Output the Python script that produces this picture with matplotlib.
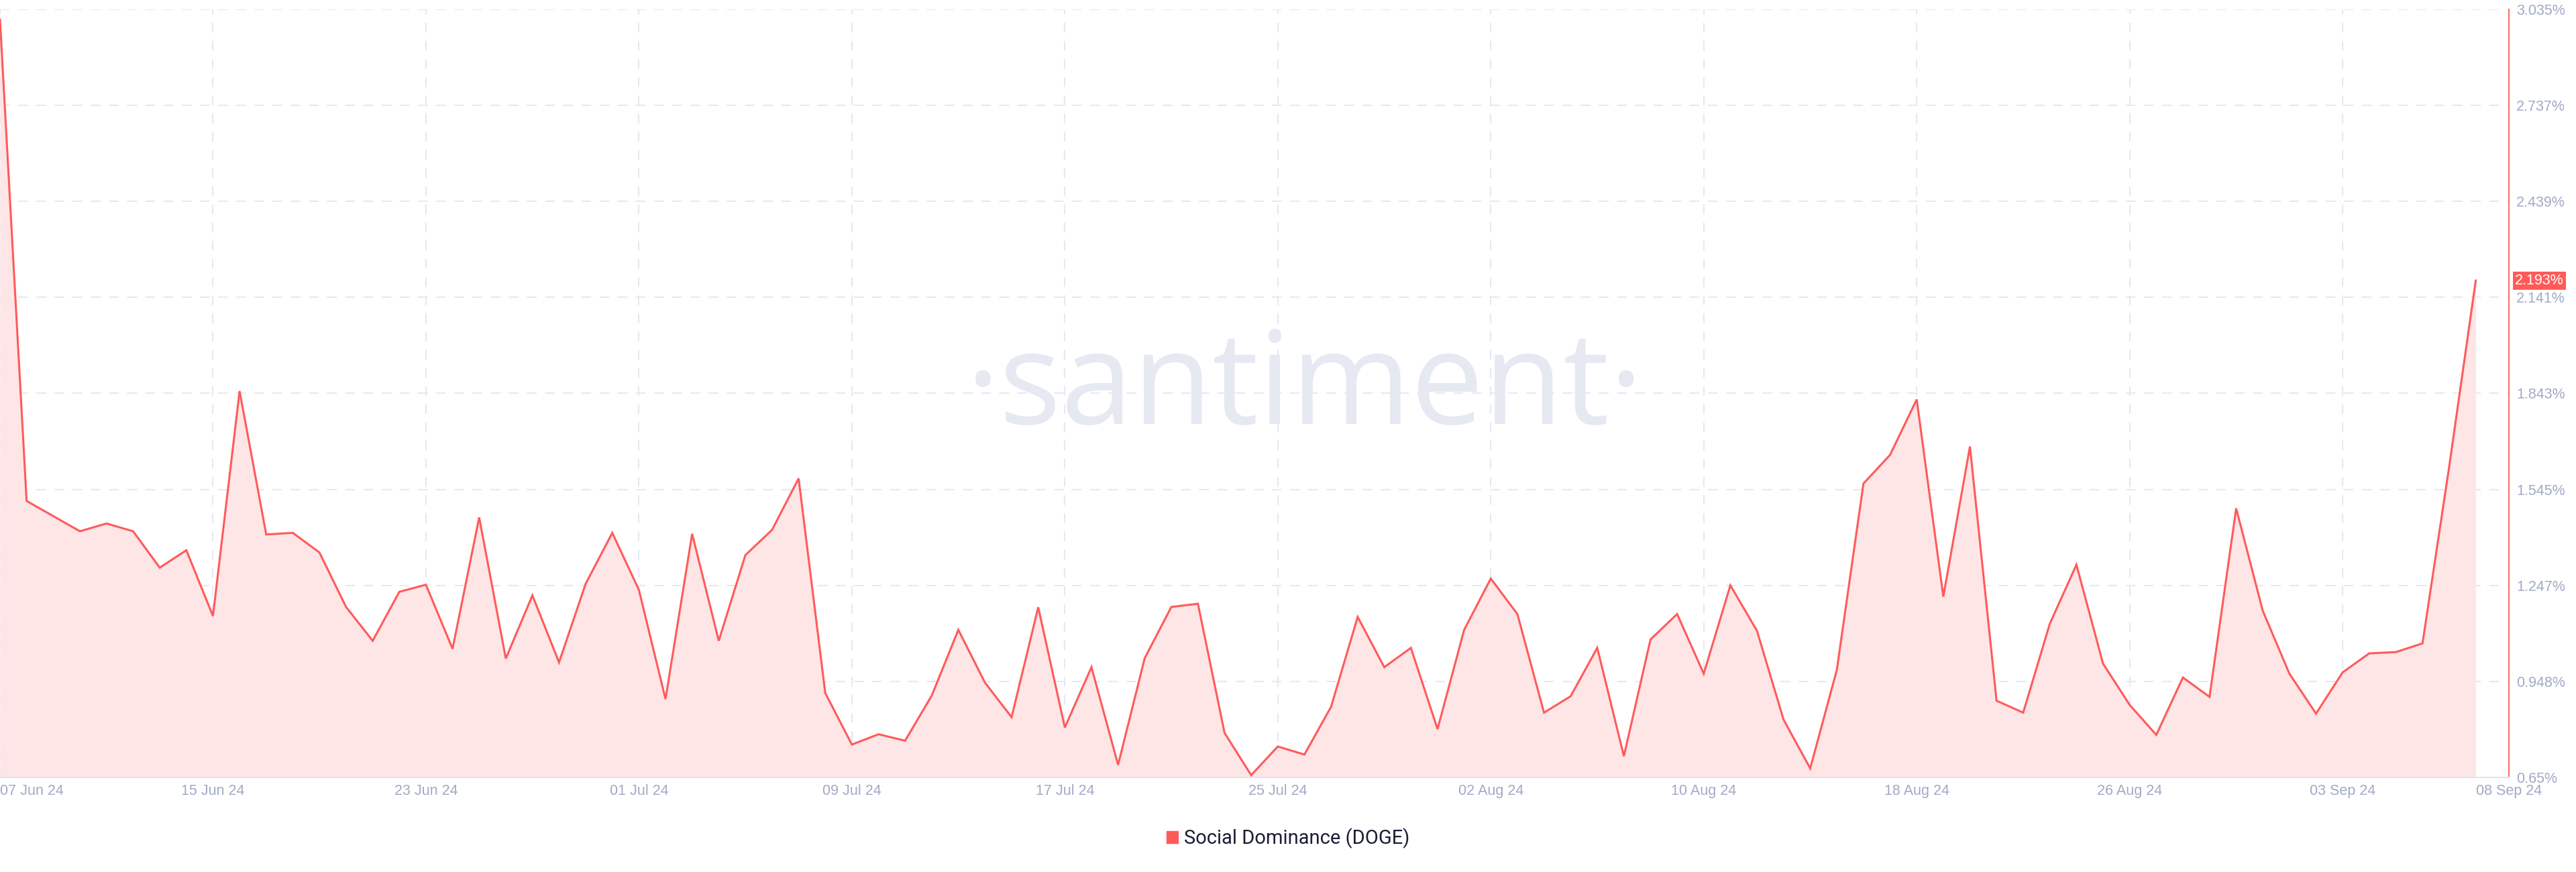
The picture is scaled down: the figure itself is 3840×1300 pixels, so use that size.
import matplotlib
matplotlib.use("Agg")
import matplotlib.pyplot as plt
import matplotlib.dates as mdates
from matplotlib.patches import Patch
import pandas as pd

# daily social dominance of DOGE, 07 Jun 24 .. 08 Sep 24 (values in %)
dates = pd.date_range("2024-06-07", periods=94, freq="D")
dominance = [
    3.003, 1.509, 1.462, 1.415, 1.439, 1.415, 1.302, 1.356, 1.152, 1.850,
    1.405, 1.410, 1.349, 1.180, 1.075, 1.227, 1.249, 1.050, 1.458, 1.020,
    1.216, 1.008, 1.252, 1.410, 1.233, 0.894, 1.407, 1.075, 1.341, 1.419,
    1.579, 0.913, 0.753, 0.785, 0.765, 0.905, 1.109, 0.945, 0.838, 1.179,
    0.806, 0.993, 0.690, 1.021, 1.180, 1.190, 0.789, 0.658, 0.747, 0.722,
    0.870, 1.149, 0.993, 1.053, 0.801, 1.109, 1.268, 1.158, 0.852, 0.903,
    1.053, 0.717, 1.079, 1.158, 0.973, 1.247, 1.106, 0.830, 0.679, 0.985,
    1.563, 1.652, 1.824, 1.212, 1.678, 0.889, 0.852, 1.128, 1.311, 1.004,
    0.876, 0.783, 0.961, 0.901, 1.486, 1.168, 0.973, 0.849, 0.977, 1.036,
    1.040, 1.067, 1.614, 2.193,
]

x_tick_dates = ["2024-06-07", "2024-06-15", "2024-06-23", "2024-07-01",
                "2024-07-09", "2024-07-17", "2024-07-25", "2024-08-02",
                "2024-08-10", "2024-08-18", "2024-08-26", "2024-09-03",
                "2024-09-08"]
x_tick_labels = ["07 Jun 24", "15 Jun 24", "23 Jun 24", "01 Jul 24",
                 "09 Jul 24", "17 Jul 24", "25 Jul 24", "02 Aug 24",
                 "10 Aug 24", "18 Aug 24", "26 Aug 24", "03 Sep 24",
                 "08 Sep 24"]
y_ticks = [0.65, 0.948, 1.247, 1.545, 1.843, 2.141, 2.439, 2.737, 3.035]
y_tick_labels = ["0.65%", "0.948%", "1.247%", "1.545%", "1.843%",
                 "2.141%", "2.439%", "2.737%", "3.035%"]
series_name = "Social Dominance (DOGE)"

RED = "#ff5a5a"
FILL = "#fee5e6"
GRID = "#e6e8f2"
TICK = "#a0aac4"
TICK_FONT = ["Liberation Sans", "DejaVu Sans"]
DASH = (0, (10.5, 9))

plt.rcParams["font.family"] = ["Roboto", "DejaVu Sans"]
plt.rcParams["lines.scale_dashes"] = False

fig = plt.figure(figsize=(38.4, 13), dpi=100)
ax = fig.add_axes([0.0, 0.1081, 0.974, 0.8813])
ax.patch.set_alpha(0)

xnum = mdates.date2num(dates)

# watermark
fig.text(0.5065, 0.5138, "\u00b7santiment\u00b7", ha="center", va="baseline",
         fontsize=139, color="#e6e9f2", zorder=0,
         family=["Open Sans", "DejaVu Sans"])

# grid
for v in y_ticks[1:]:
    ax.axhline(v, color=GRID, lw=1.5, ls=DASH, zorder=1)
for d in x_tick_dates[:-1]:
    ax.axvline(mdates.datestr2num(d), color=GRID, lw=1.5, ls=DASH, zorder=1)

ax.fill_between(xnum, dominance, 0.65, color=FILL, lw=0, zorder=2)
ax.plot(xnum, dominance, color=RED, lw=2.2, zorder=3,
        solid_joinstyle="miter")

ax.set_xlim(xnum[0], xnum[0] + 94.25)
ax.set_ylim(0.65, 3.035)

ax.set_xticks([mdates.datestr2num(d) for d in x_tick_dates])
ax.set_xticklabels(x_tick_labels, family=TICK_FONT)
labels = ax.get_xticklabels()
labels[0].set_horizontalalignment("left")
labels[-1].set_horizontalalignment("left")
ax.tick_params(axis="x", length=0, pad=7, labelsize=15.5, labelcolor=TICK)

ax.yaxis.tick_right()
ax.set_yticks(y_ticks)
ax.set_yticklabels(y_tick_labels, family=TICK_FONT)
ax.tick_params(axis="y", length=0, pad=8, labelsize=15.5, labelcolor=TICK)

for side in ["top", "left"]:
    ax.spines[side].set_visible(False)
ax.spines["right"].set_color(RED)
ax.spines["right"].set_linewidth(1.3)
ax.spines["bottom"].set_color("#dfe3ee")
ax.spines["bottom"].set_linewidth(1.5)

# last value badge
ax.text(1.0024, dominance[-1], f"{dominance[-1]:.3f}%",
        transform=ax.get_yaxis_transform(), ha="left", va="center",
        fontsize=15.5, color="white", zorder=5, family=TICK_FONT,
        bbox=dict(boxstyle="square,pad=0.15", fc=RED, ec="none"))

fig.legend(handles=[Patch(color=RED, label=series_name)],
           loc="center", bbox_to_anchor=(0.5, 0.0385), frameon=False,
           fontsize=21, handlelength=0.6, handleheight=0.6,
           handletextpad=0.3, labelcolor="#1b1e33")

fig.savefig("out.png", dpi=100)
